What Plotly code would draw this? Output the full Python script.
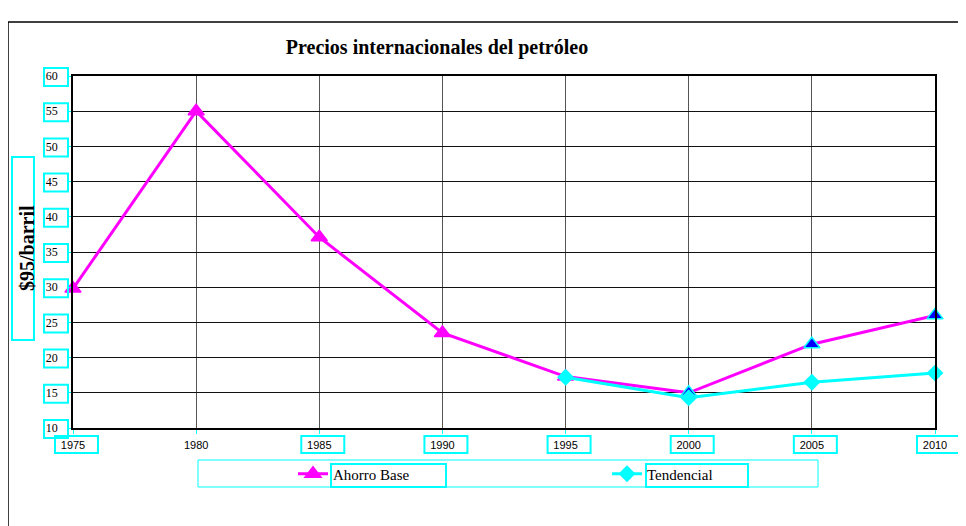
import plotly.graph_objects as go

# ---- data ----
years = [1975, 1980, 1985, 1990, 1995, 2000, 2005, 2010]
ahorro_base = [29.8, 55.0, 37.1, 23.5, 17.3, 15.0, 21.9, 26.0]
tendencial = [None, None, None, None, 17.2, 14.3, 16.5, 17.8]
ahorro_marker_fill = ["#FF00FF"] * 5 + ["#0000FF"] * 3
ahorro_marker_line = ["#FF00FF"] * 5 + ["#00FFFF"] * 3
y_ticks = [10, 15, 20, 25, 30, 35, 40, 45, 50, 55, 60]
boxed_years = [1975, 1985, 1990, 1995, 2000, 2005, 2010]

title = "Precios internacionales del petróleo"
y_title = "$95/barril"

X_MIN, X_MAX = 1975, 2010
Y_MIN, Y_MAX = 10, 60

# page has an 8px body margin; figure sized/positioned to compensate
OFF = 8
W, H = 966 - OFF, 526 - OFF
PL, PR, PT, PB = 73, 935, 76, 428          # plot area in screen pixels
L, R, T, B = PL - OFF, 966 - PR, PT - OFF, 526 - PB
PW, PH = PR - PL, PB - PT


def px(x):
    return (x - PL) / PW


def py(y):
    return (PB - y) / PH


CYAN = "#00FFFF"
SERIF = "Liberation Serif"
SANS = "Liberation Sans"

fig = go.Figure()
fig.add_trace(go.Scatter(
    x=years, y=ahorro_base, name="Ahorro Base", mode="lines+markers",
    line=dict(color="#FF00FF", width=3),
    marker=dict(symbol="triangle-up", size=14, color=ahorro_marker_fill,
                line=dict(color=ahorro_marker_line, width=1.5)),
    cliponaxis=False, legend="legend", showlegend=True,
))
fig.add_trace(go.Scatter(
    x=years, y=tendencial, name="Tendencial", mode="lines+markers",
    line=dict(color=CYAN, width=3),
    marker=dict(symbol="diamond", size=13, color=CYAN),
    cliponaxis=False, legend="legend2", showlegend=True,
))

shapes = []
# outer frame
shapes.append(dict(type="line", xref="paper", yref="paper", x0=px(8), y0=py(22), x1=px(980), y1=py(22),
                   line=dict(color="black", width=1.5)))
shapes.append(dict(type="line", xref="paper", yref="paper", x0=px(8), y0=py(22), x1=px(8), y1=py(540),
                   line=dict(color="black", width=1.5)))
# x tick label boxes (paper refs so they are not clipped to the plot area)
for yr in boxed_years:
    shapes.append(dict(type="rect", xref="paper", yref="paper", xsizemode="pixel",
                       xanchor=(yr - X_MIN) / (X_MAX - X_MIN),
                       x0=-18, x1=25, y0=py(453), y1=py(436),
                       line=dict(color=CYAN, width=2)))
# y tick label boxes
for v in y_ticks:
    shapes.append(dict(type="rect", xref="paper", yref="paper", ysizemode="pixel",
                       yanchor=(v - Y_MIN) / (Y_MAX - Y_MIN),
                       x0=px(44), x1=px(68), y0=-10, y1=8,
                       line=dict(color=CYAN, width=2)))
# y title box
shapes.append(dict(type="rect", xref="paper", yref="paper", x0=px(12), x1=px(34), y0=py(340), y1=py(157),
                   line=dict(color=CYAN, width=2)))
# legend boxes
shapes.append(dict(type="rect", xref="paper", yref="paper", x0=px(198), x1=px(818), y0=py(487), y1=py(460),
                   line=dict(color=CYAN, width=1)))
shapes.append(dict(type="rect", xref="paper", yref="paper", x0=px(331), x1=px(446), y0=py(487), y1=py(464),
                   line=dict(color=CYAN, width=2)))
shapes.append(dict(type="rect", xref="paper", yref="paper", x0=px(646), x1=px(748), y0=py(487), y1=py(464),
                   line=dict(color=CYAN, width=2)))

legend_common = dict(
    orientation="h", yanchor="middle", xanchor="left", xref="paper", yref="paper",
    font=dict(family=SERIF, size=15, color="black"),
    bgcolor="rgba(0,0,0,0)", borderwidth=0, visible=True,
)

fig.update_layout(
    width=W, height=H, showlegend=True,
    margin=dict(l=L, r=R, t=T, b=B, pad=0),
    paper_bgcolor="white", plot_bgcolor="white",
    title=dict(text=title, x=(437 - PL) / PW, xref="paper", xanchor="center",
               y=1 - (47 - OFF) / H, yanchor="middle",
               font=dict(family=SERIF, size=20, color="black", weight="bold")),
    xaxis=dict(
        range=[X_MIN, X_MAX], tickmode="array", tickvals=years, ticktext=[str(y) for y in years],
        showgrid=True, gridcolor="#555555", gridwidth=1,
        showline=True, linecolor="black", linewidth=2, mirror=True,
        ticks="outside", ticklen=4, tickcolor=CYAN, tickwidth=1,
        tickfont=dict(family=SANS, size=11, color="black"),
        ticklabelstandoff=2,
        zeroline=False,
    ),
    yaxis=dict(
        range=[Y_MIN, Y_MAX], tickmode="array", tickvals=y_ticks,
        showgrid=True, gridcolor="#111111", gridwidth=1,
        showline=True, linecolor="black", linewidth=1.5, mirror=True,
        ticks="outside", ticklen=4, tickcolor=CYAN, tickwidth=1,
        tickfont=dict(family=SERIF, size=12, color="black"),
        ticklabelstandoff=7,
        zeroline=False,
    ),
    legend=dict(x=px(293), y=py(474), **legend_common),
    legend2=dict(x=px(607), y=py(474), **legend_common),
    shapes=shapes,
    annotations=[dict(
        text=y_title, xref="paper", yref="paper", x=px(27), y=py(248),
        xanchor="center", yanchor="middle", textangle=-90, showarrow=False,
        font=dict(family=SERIF, size=20, color="black", weight="bold"),
    )],
)

fig.write_html("out.html")
